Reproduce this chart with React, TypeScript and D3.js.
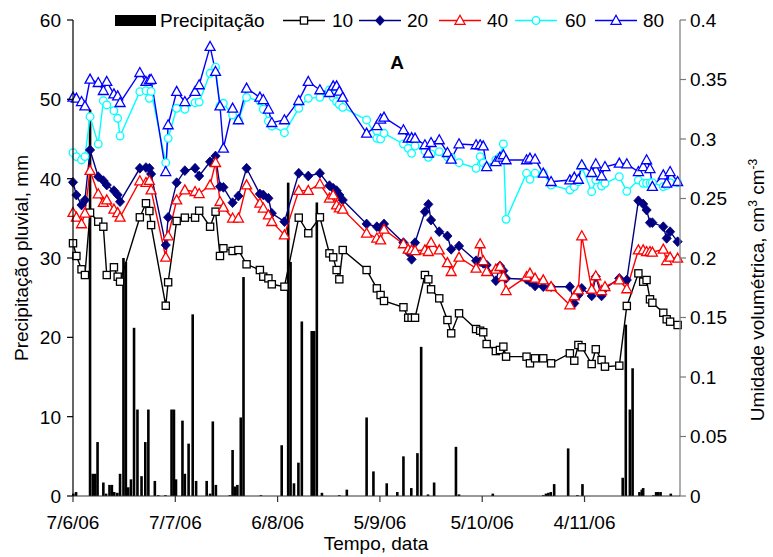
import React from 'react';
import * as d3 from 'd3';

// ---- data ----
const xTickDays = [0, 30, 60, 90, 120, 150];
const xTickLabels = ['7/6/06', '7/7/06', '6/8/06', '5/9/06', '5/10/06', '4/11/06'];
const leftTicks = [0, 10, 20, 30, 40, 50, 60];
const rightTicks = [0, 0.05, 0.1, 0.15, 0.2, 0.25, 0.3, 0.35, 0.4];

const precipDays = [0.1, 0.9, 5.0, 5.8, 6.5, 7.2, 8.9, 9.7, 10.7, 11.4, 12.1, 13.0, 13.8, 14.8, 15.5, 16.2, 17.0, 17.9, 18.9, 20.1, 21.2, 22.1, 24.0, 25.0, 27.1, 28.9, 29.6, 30.2, 32.1, 32.8, 33.9, 35.1, 36.1, 39.2, 40.2, 41.0, 41.9, 46.0, 46.8, 47.5, 48.2, 49.2, 50.0, 55.1, 61.2, 63.1, 63.8, 64.8, 66.1, 67.1, 70.0, 70.7, 71.5, 73.0, 78.1, 80.3, 86.1, 88.1, 92.0, 95.1, 96.9, 99.2, 101.0, 102.1, 104.1, 105.9, 112.3, 113.2, 123.1, 137.9, 138.7, 139.4, 140.1, 141.1, 145.2, 147.9, 149.4, 161.2, 162.1, 163.3, 164.1, 166.1, 166.8, 167.2, 170.2, 171.0, 171.6, 172.3, 175.3];
const precipMm = [0.3, 0.5, 48.7, 2.8, 2.8, 6.8, 1.7, 0.3, 1.4, 1.4, 0.5, 0.4, 2.8, 30.0, 29.5, 1.1, 2.1, 21.2, 10.9, 2.5, 6.8, 10.9, 1.9, 0.1, 0.1, 10.9, 10.9, 2.1, 9.5, 2.8, 6.6, 22.9, 1.9, 1.9, 0.3, 9.4, 1.4, 0.1, 5.8, 1.2, 1.4, 9.9, 27.6, 0.1, 6.4, 39.5, 29.5, 1.6, 4.2, 22.0, 20.8, 20.8, 37.0, 0.4, 0.1, 0.8, 9.9, 3.1, 1.6, 0.5, 5.0, 1.0, 5.4, 18.8, 0.2, 1.7, 6.2, 0.2, 0.3, 0.1, 0.3, 0.4, 0.5, 1.5, 6.0, 0.1, 1.5, 2.3, 21.6, 10.9, 16.1, 0.5, 0.8, 1.0, 0.1, 0.5, 0.5, 0.5, 0.3];

const sampleDays = [0, 1, 2.5, 3.5, 5, 7.4, 8.9, 9.9, 12, 13.1, 13.8, 19.6, 21.4, 22.4, 22.9, 27.2, 27.9, 30.4, 32.8, 35.8, 37, 40.2, 41.8, 43.1, 44.1, 46.8, 48.5, 50.9, 54.8, 55.8, 57.3, 58.3, 62, 66.2, 69, 72.4, 75.2, 76.3, 77.3, 78.1, 79.1, 86.1, 89.1, 90.2, 91.2, 96.9, 98.3, 99.3, 100.3, 103.2, 104.2, 105, 107.4, 109.8, 110.9, 113.2, 118.2, 119.4, 120.3, 121.3, 124, 125.2, 126.2, 127, 133, 134, 135.5, 137.9, 140.2, 145.7, 147, 148.2, 149.2, 152.1, 153.3, 155, 156, 160.2, 162.4, 165.8, 167.2, 168.2, 169.2, 169.9, 173.1, 174.1, 175.1, 177.3];

const depth10 = [0.2124, 0.2017, 0.1905, 0.1857, 0.2381, 0.2305, 0.2263, 0.1857, 0.1922, 0.1843, 0.1801, 0.2342, 0.2460, 0.2395, 0.2277, 0.1599, 0.1796, 0.2311, 0.2339, 0.2339, 0.2397, 0.2263, 0.2389, 0.2017, 0.2082, 0.2059, 0.2067, 0.1947, 0.1899, 0.1843, 0.1829, 0.1779, 0.1759, 0.2339, 0.2208, 0.2342, 0.2039, 0.2006, 0.1899, 0.1821, 0.2067, 0.1899, 0.1745, 0.1689, 0.1639, 0.1586, 0.1498, 0.1498, 0.1498, 0.1857, 0.1821, 0.1737, 0.1661, 0.1479, 0.1367, 0.1535, 0.1403, 0.1389, 0.1376, 0.1277, 0.1218, 0.1227, 0.1255, 0.1171, 0.1171, 0.1115, 0.1157, 0.1157, 0.1115, 0.1199, 0.1137, 0.1269, 0.1250, 0.1109, 0.1233, 0.1143, 0.1087, 0.1095, 0.1597, 0.1871, 0.1801, 0.1815, 0.1653, 0.1624, 0.1540, 0.1485, 0.1465, 0.1437];
const depth20 = [0.2636, 0.2529, 0.2445, 0.2487, 0.2908, 0.2683, 0.2650, 0.2613, 0.2566, 0.2530, 0.2473, 0.2754, 0.2760, 0.2754, 0.2706, 0.2109, 0.2342, 0.2633, 0.2734, 0.2754, 0.2689, 0.2809, 0.2857, 0.2600, 0.2594, 0.2465, 0.2521, 0.2754, 0.2538, 0.2530, 0.2502, 0.2376, 0.2305, 0.2712, 0.2689, 0.2712, 0.2608, 0.2586, 0.2566, 0.2530, 0.2487, 0.2286, 0.2263, 0.2250, 0.2286, 0.2129, 0.2050, 0.1989, 0.2129, 0.2389, 0.2451, 0.2319, 0.2221, 0.2185, 0.2073, 0.2101, 0.1977, 0.1969, 0.1955, 0.1941, 0.1809, 0.1933, 0.1893, 0.1829, 0.1821, 0.1801, 0.1765, 0.1759, 0.1759, 0.1759, 0.1619, 0.1689, 0.1745, 0.1681, 0.1843, 0.1681, 0.1745, 0.1829, 0.1815, 0.2481, 0.2454, 0.2403, 0.2297, 0.2297, 0.2263, 0.2165, 0.2221, 0.2137];
const depth40 = [0.2381, 0.2342, 0.2286, 0.2376, 0.2734, 0.2538, 0.2465, 0.2487, 0.2409, 0.2380, 0.2342, 0.2647, 0.2633, 0.2650, 0.2571, 0.2006, 0.2185, 0.2487, 0.2571, 0.2557, 0.2540, 0.2613, 0.2801, 0.2473, 0.2426, 0.2334, 0.2334, 0.2613, 0.2460, 0.2418, 0.2360, 0.2305, 0.2193, 0.2566, 0.2566, 0.2622, 0.2502, 0.2529, 0.2445, 0.2420, 0.2409, 0.2208, 0.2166, 0.2151, 0.2241, 0.2118, 0.2073, 0.2067, 0.2061, 0.2067, 0.2053, 0.2129, 0.2067, 0.1960, 0.1885, 0.2006, 0.1913, 0.2118, 0.1977, 0.1885, 0.1905, 0.1927, 0.1843, 0.1725, 0.1843, 0.1871, 0.1829, 0.1815, 0.1759, 0.1605, 0.1681, 0.1731, 0.2185, 0.1737, 0.1849, 0.1725, 0.1759, 0.1815, 0.1740, 0.2067, 0.2067, 0.2053, 0.2053, 0.2048, 0.2073, 0.1977, 0.2006, 0.1997];
const depth60 = [0.2885, 0.2852, 0.2824, 0.2852, 0.3188, 0.2958, 0.3322, 0.3286, 0.3238, 0.3174, 0.3025, 0.3398, 0.3406, 0.3342, 0.3400, 0.2801, 0.3006, 0.3258, 0.3250, 0.3305, 0.3310, 0.3552, 0.3603, 0.3277, 0.3300, 0.3202, 0.3160, 0.3350, 0.3319, 0.3250, 0.3150, 0.3109, 0.3053, 0.3258, 0.3342, 0.3350, 0.3412, 0.3350, 0.3313, 0.3290, 0.3266, 0.3160, 0.3006, 0.3000, 0.3048, 0.2958, 0.2922, 0.2880, 0.2941, 0.2900, 0.2846, 0.2874, 0.2893, 0.2850, 0.2846, 0.2801, 0.2754, 0.2852, 0.2800, 0.2767, 0.2824, 0.2850, 0.2958, 0.2325, 0.2712, 0.2661, 0.2712, 0.2712, 0.2613, 0.2571, 0.2600, 0.2641, 0.2767, 0.2557, 0.2655, 0.2605, 0.2628, 0.2683, 0.2560, 0.2655, 0.2628, 0.2628, 0.2630, 0.2633, 0.2600, 0.2610, 0.2633, 0.2633];
const depth80 = [0.3350, 0.3342, 0.3313, 0.3277, 0.3502, 0.3473, 0.3406, 0.3482, 0.3378, 0.3361, 0.3305, 0.3557, 0.3482, 0.3496, 0.3500, 0.2725, 0.3118, 0.3398, 0.3313, 0.3398, 0.3454, 0.3776, 0.3566, 0.3277, 0.2922, 0.3258, 0.3160, 0.3426, 0.3350, 0.3330, 0.3250, 0.3137, 0.3160, 0.3322, 0.3482, 0.3412, 0.3389, 0.3445, 0.3445, 0.3400, 0.3350, 0.3048, 0.3110, 0.3166, 0.3182, 0.3076, 0.3006, 0.3010, 0.3006, 0.2950, 0.2880, 0.2969, 0.2992, 0.2885, 0.2829, 0.2958, 0.2950, 0.2950, 0.2941, 0.2767, 0.2809, 0.2846, 0.2866, 0.2824, 0.2824, 0.2838, 0.2830, 0.2712, 0.2641, 0.2655, 0.2678, 0.2660, 0.2782, 0.2717, 0.2790, 0.2689, 0.2767, 0.2796, 0.2790, 0.2725, 0.2767, 0.2824, 0.2750, 0.2600, 0.2697, 0.2628, 0.2725, 0.2641];

const seriesNames = ['10', '20', '40', '60', '80'];
const seriesValues = [depth10, depth20, depth40, depth60, depth80];
const seriesColors = ['#000000', '#000080', '#FF0000', '#00FFFF', '#0000FF'];
const seriesShapes = ['square', 'diamond', 'triangle', 'circle', 'triangle'];

const FONT = 'Liberation Sans, Arial, sans-serif';

function Marker({ shape, color, cx, cy }: { shape: string; color: string; cx: number; cy: number }) {
  if (shape === 'square') {
    return <rect x={cx - 3.6} y={cy - 3.6} width={7.2} height={7.2} fill="#fff" stroke={color} strokeWidth={1.3} />;
  }
  if (shape === 'diamond') {
    return <path d={`M${cx},${cy - 4.9}L${cx + 4.6},${cy}L${cx},${cy + 4.9}L${cx - 4.6},${cy}Z`} fill={color} stroke={color} strokeWidth={0.8} />;
  }
  if (shape === 'triangle') {
    return <path d={`M${cx},${cy - 5.2}L${cx + 5},${cy + 3.8}L${cx - 5},${cy + 3.8}Z`} fill="#fff" stroke={color} strokeWidth={1.3} />;
  }
  return <circle cx={cx} cy={cy} r={3.8} fill="#fff" stroke={color} strokeWidth={1.3} />;
}

export default function App() {
  const x = d3.scaleLinear().domain([0, 178]).range([73, 680]);
  const yL = d3.scaleLinear().domain([0, 60]).range([496, 20]);
  const yR = d3.scaleLinear().domain([0, 0.4]).range([496, 20]);
  const barW = 2.6;

  const line = d3
    .line<[number, number]>()
    .x((d) => x(d[0]))
    .y((d) => yR(d[1]));

  const legendItems = [
    { lx: 283, tx: 332 },
    { lx: 359, tx: 407 },
    { lx: 439, tx: 487 },
    { lx: 515, tx: 565 },
    { lx: 595, tx: 643 },
  ];

  return (
    <svg
      width={773}
      height={557}
      style={{ position: 'absolute', left: 0, top: 0, background: '#fff' }}
      fontFamily={FONT}
    >
      <rect x={0} y={0} width={773} height={557} fill="#fff" />
      {/* precipitation bars */}
      <g>
        {precipDays.map((d, i) => (
          <rect
            key={i}
            x={x(d) - barW / 2}
            y={yL(precipMm[i])}
            width={barW}
            height={yL(0) - yL(precipMm[i])}
            fill="#000"
          />
        ))}
      </g>
      {/* series lines */}
      {seriesValues.map((vals, si) => (
        <path
          key={'l' + si}
          d={line(sampleDays.map((d, i) => [d, vals[i]] as [number, number])) || ''}
          fill="none"
          stroke={seriesColors[si]}
          strokeWidth={1.4}
        />
      ))}
      {seriesValues.map((vals, si) => (
        <g key={'m' + si}>
          {sampleDays.map((d, i) => (
            <Marker key={i} shape={seriesShapes[si]} color={seriesColors[si]} cx={x(d)} cy={yR(vals[i])} />
          ))}
        </g>
      ))}
      {/* axes */}
      <line x1={73} x2={73} y1={20} y2={496} stroke="#000" strokeWidth={1.2} />
      {leftTicks.map((t) => (
        <g key={'lt' + t}>
          <line x1={67} x2={73} y1={yL(t)} y2={yL(t)} stroke="#000" strokeWidth={1.2} />
          <text x={61} y={yL(t)} dy="0.36em" textAnchor="end" fontSize={19}>
            {t}
          </text>
        </g>
      ))}
      <line x1={680} x2={680} y1={20} y2={496} stroke="#777" strokeWidth={1.2} />
      {rightTicks.map((t) => (
        <g key={'rt' + t}>
          <line x1={680} x2={686} y1={yR(t)} y2={yR(t)} stroke="#777" strokeWidth={1.2} />
          <text x={690} y={yR(t)} dy="0.36em" textAnchor="start" fontSize={19}>
            {t}
          </text>
        </g>
      ))}
      <line x1={73} x2={680} y1={496} y2={496} stroke="#333" strokeWidth={1.2} />
      {xTickDays.map((d, i) => (
        <g key={'xt' + d}>
          <line x1={x(d)} x2={x(d)} y1={496} y2={502} stroke="#333" strokeWidth={1.2} />
          <text x={x(d)} y={529} textAnchor="middle" fontSize={19}>
            {xTickLabels[i]}
          </text>
        </g>
      ))}
      {/* titles */}
      <text x={376} y={550} textAnchor="middle" fontSize={19}>
        Tempo, data
      </text>
      <text transform="translate(28,258) rotate(-90)" textAnchor="middle" fontSize={19}>
        Precipitação pluvial, mm
      </text>
      <text transform="translate(764,290) rotate(-90)" textAnchor="middle" fontSize={19}>
        Umidade volumétrica, cm
        <tspan fontSize={12} dy={-7}>3</tspan>
        <tspan dy={7}> cm</tspan>
        <tspan fontSize={12} dy={-7}>-3</tspan>
      </text>
      <text x={397} y={69} textAnchor="middle" fontSize={19} fontWeight="bold">
        A
      </text>
      {/* legend */}
      <rect x={115} y={15} width={41} height={11} fill="#000" />
      <text x={160} y={27} fontSize={19}>
        Precipitação
      </text>
      {legendItems.map((it, si) => (
        <g key={'lg' + si}>
          <line x1={it.lx} x2={it.lx + 42} y1={20.5} y2={20.5} stroke={seriesColors[si]} strokeWidth={1.3} />
          <Marker shape={seriesShapes[si]} color={seriesColors[si]} cx={it.lx + 21} cy={20.5} />
          <text x={it.tx} y={27} fontSize={19}>
            {seriesNames[si]}
          </text>
        </g>
      ))}
    </svg>
  );
}
